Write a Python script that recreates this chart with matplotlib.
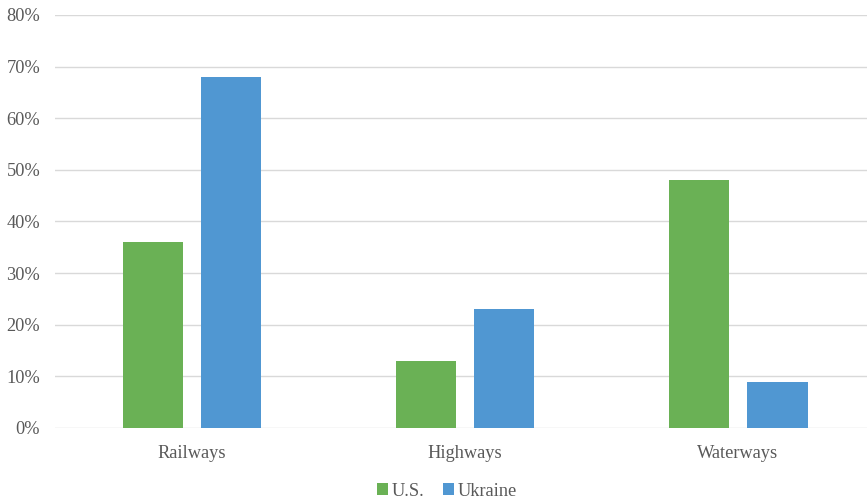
import numpy as np
import matplotlib.pyplot as plt
from matplotlib.ticker import PercentFormatter

# Freight share by transport mode
modes = ["Railways", "Highways", "Waterways"]
us_share = [36, 13, 48]
ukraine_share = [68, 23, 9]

greenCol = "#6AB155"
blueCol = "#5097D2"
textCol = "#595959"

plt.rcParams['font.family'] = ['Liberation Serif', 'DejaVu Serif']

fig = plt.figure(figsize=(8.67, 4.99), dpi=100)
ax = fig.add_axes([0.064, 0.1423, 0.9447, 0.8277])

x = np.arange(len(modes))
barW = 0.223
offset = 0.143
ax.bar(x - offset, us_share, barW, color=greenCol, label="U.S.", zorder=3)
ax.bar(x + offset, ukraine_share, barW, color=blueCol, label="Ukraine", zorder=3)

ax.set_xlim(-0.5, 2.5)
ax.set_ylim(0, 80)
ax.set_yticks(np.arange(0, 81, 10))
ax.yaxis.set_major_formatter(PercentFormatter(decimals=0))
ax.set_xticks(x)
ax.set_xticklabels(modes)
ax.grid(axis='y', color="#D9D9D9", linewidth=1, zorder=0)
for s in ax.spines.values():
    s.set_visible(False)
ax.tick_params(axis='both', length=0, labelsize=13.2, colors=textCol)
ax.tick_params(axis='y', pad=11)
ax.tick_params(axis='x', pad=12)

leg = fig.legend(loc='center', bbox_to_anchor=(447/867, 1 - 491/499), ncol=2,
                 frameon=False, fontsize=13.2, handlelength=0.6, handleheight=0.6,
                 handletextpad=0.2, columnspacing=1.0, borderpad=0)
for t in leg.get_texts():
    t.set_color(textCol)

fig.savefig("out.png", dpi=100)
